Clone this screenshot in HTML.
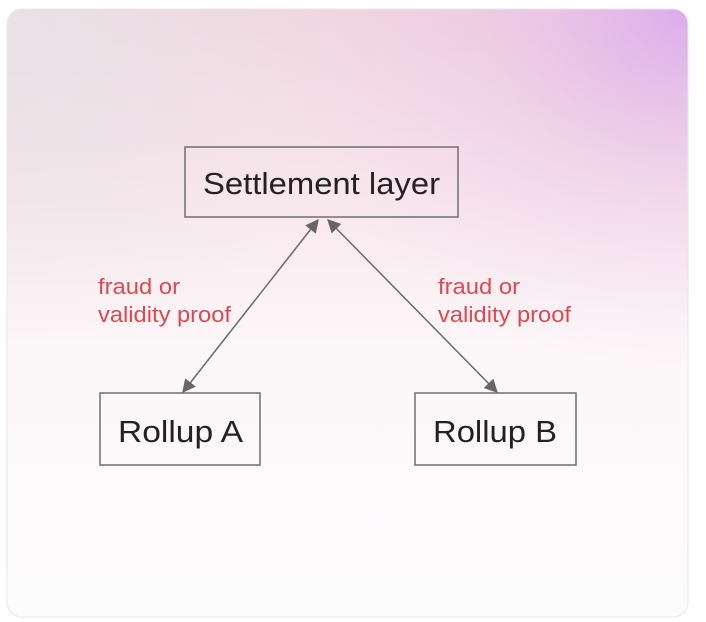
<!DOCTYPE html>
<html><head><meta charset="utf-8"><style>
html,body{margin:0;padding:0;background:#fff;width:706px;height:622px;overflow:hidden}
svg{display:block}
</style></head><body>
<svg width="706" height="622" viewBox="0 0 706 622" xmlns="http://www.w3.org/2000/svg">
<defs>
<linearGradient id="g1" x1="0" y1="0" x2="0" y2="1">
<stop offset="0" stop-color="#f1d4de"/>
<stop offset="0.3" stop-color="#f8e6ec"/>
<stop offset="0.55" stop-color="#fcf7f9"/>
<stop offset="1" stop-color="#fdfcfd"/>
</linearGradient>
<radialGradient id="g2" cx="1" cy="0" r="0.6">
<stop offset="0" stop-color="#d9a8ee" stop-opacity="0.9"/>
<stop offset="0.5" stop-color="#e6bde8" stop-opacity="0.35"/>
<stop offset="1" stop-color="#f0d0e8" stop-opacity="0"/>
</radialGradient>
<radialGradient id="g3" cx="0" cy="0" r="0.55">
<stop offset="0" stop-color="#e6e3e6" stop-opacity="0.9"/>
<stop offset="1" stop-color="#ece6ea" stop-opacity="0"/>
</radialGradient>
<marker id="ah" viewBox="0 0 10 10" refX="9" refY="5" markerWidth="9" markerHeight="9" orient="auto-start-reverse">
<path d="M0,0 L10,5 L0,10 z" fill="#666"/>
</marker>
<clipPath id="c"><rect x="7" y="9" width="681" height="608" rx="15"/></clipPath>
</defs>
<g clip-path="url(#c)">
<rect x="7" y="9" width="681" height="608" fill="url(#g1)"/>
<rect x="7" y="9" width="681" height="608" fill="url(#g2)"/>
<rect x="7" y="9" width="681" height="608" fill="url(#g3)"/>
</g>
<rect x="7" y="9" width="681" height="608" rx="15" fill="none" stroke="#e8e6ea" stroke-width="1"/>
<g fill="none" stroke="#777" stroke-width="1.6">
<rect x="185" y="147" width="273" height="70"/>
<rect x="100" y="393" width="160" height="72"/>
<rect x="415" y="393" width="161" height="72"/>
</g>
<g stroke="#6a6a6a" stroke-width="1.5">
<line x1="318" y1="220" x2="183" y2="392" marker-start="url(#ah)" marker-end="url(#ah)"/>
<line x1="328" y1="220" x2="497" y2="392" marker-start="url(#ah)" marker-end="url(#ah)"/>
</g>
<g font-family="Liberation Sans, Arial, sans-serif" fill="#222" font-size="31">
<text x="203" y="194" textLength="237" lengthAdjust="spacingAndGlyphs">Settlement layer</text>
<text x="118" y="442" textLength="125" lengthAdjust="spacingAndGlyphs">Rollup A</text>
<text x="433" y="442" textLength="124" lengthAdjust="spacingAndGlyphs">Rollup B</text>
</g>
<g font-family="Liberation Sans, Arial, sans-serif" fill="#e0484e" font-size="22">
<text x="98" y="294" textLength="82" lengthAdjust="spacingAndGlyphs">fraud or</text>
<text x="98" y="322" textLength="133" lengthAdjust="spacingAndGlyphs">validity proof</text>
<text x="438" y="294" textLength="82" lengthAdjust="spacingAndGlyphs">fraud or</text>
<text x="438" y="322" textLength="133" lengthAdjust="spacingAndGlyphs">validity proof</text>
</g>
</svg>
</body></html>
